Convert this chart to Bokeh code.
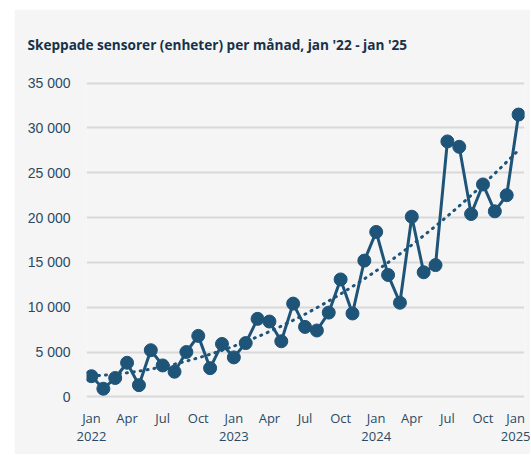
import numpy as np
from bokeh.plotting import figure
from bokeh.models import Range1d, FixedTicker
from bokeh.embed import file_html
from bokeh.resources import INLINE

# ---- data ----
months = ["Jan 2022", "Feb 2022", "Mar 2022", "Apr 2022", "May 2022", "Jun 2022",
          "Jul 2022", "Aug 2022", "Sep 2022", "Oct 2022", "Nov 2022", "Dec 2022",
          "Jan 2023", "Feb 2023", "Mar 2023", "Apr 2023", "May 2023", "Jun 2023",
          "Jul 2023", "Aug 2023", "Sep 2023", "Oct 2023", "Nov 2023", "Dec 2023",
          "Jan 2024", "Feb 2024", "Mar 2024", "Apr 2024", "May 2024", "Jun 2024",
          "Jul 2024", "Aug 2024", "Sep 2024", "Oct 2024", "Nov 2024", "Dec 2024",
          "Jan 2025"]
units = [2300, 900, 2100, 3800, 1300, 5200, 3500, 2800, 5000, 6800, 3200, 5900,
         4400, 6000, 8700, 8400, 6200, 10400, 7800, 7400, 9400, 13100, 9300, 15200,
         18400, 13600, 10500, 20100, 13900, 14700, 28500, 27900, 20400, 23700, 20700, 22500,
         31500]
xtick_pos = [0, 3, 6, 9, 12, 15, 18, 21, 24, 27, 30, 33, 36]
xtick_labels = ["Jan\n2022", "Apr", "Jul", "Oct", "Jan\n2023", "Apr", "Jul", "Oct",
                "Jan\n2024", "Apr", "Jul", "Oct", "Jan\n2025"]
ytick_pos = [0, 5000, 10000, 15000, 20000, 25000, 30000, 35000]
ytick_labels = ["0", "5 000", "10 000", "15 000", "20 000", "25 000", "30 000", "35 000"]
title_text = "Skeppade sensorer (enheter) per månad, jan '22 - jan '25"

x = list(range(len(units)))

# polynomial (order 2) trendline fitted to the data
coef = np.polyfit(x, units, 2)
tx = np.linspace(0, len(units) - 1, 200)
ty = np.polyval(coef, tx)

LINE = "#1f5479"
TXT = "#2c4a63"
BG = "#f5f5f5"

p = figure(width=516, height=445, output_backend="svg", toolbar_location=None,
           x_range=Range1d(-0.42, 36.5), y_range=Range1d(-300, 35300),
           min_border_left=72, min_border_right=6, min_border_top=71, min_border_bottom=55)
p.margin = (9, 0, 0, 14)
p.background_fill_color = BG
p.border_fill_color = BG
p.outline_line_color = None

p.title.text = title_text
p.title.align = "left"
p.title.vertical_align = "top"
p.title.offset = -59
p.title.standoff = 49
p.title.text_font = "Open Sans"
p.title.text_font_style = "bold"
p.title.text_font_size = "13.6px"
p.title.text_color = "#173149"

p.line(tx, ty, line_color=LINE, line_width=3, line_dash="1 6", line_cap="round")
p.line(x, units, line_color=LINE, line_width=3)
p.scatter(x, units, size=13, fill_color=LINE, line_color=LINE)

p.xgrid.grid_line_color = None
p.ygrid.grid_line_color = "#d9d9d9"
p.ygrid.grid_line_width = 2
p.ygrid.ticker = FixedTicker(ticks=ytick_pos)

p.xaxis.ticker = FixedTicker(ticks=xtick_pos)
p.xaxis.major_label_overrides = {t: l for t, l in zip(xtick_pos, xtick_labels)}
p.yaxis.ticker = FixedTicker(ticks=ytick_pos)
p.yaxis.major_label_overrides = {t: l for t, l in zip(ytick_pos, ytick_labels)}

for ax in (p.xaxis, p.yaxis):
    ax.axis_line_color = None
    ax.major_tick_line_color = None
    ax.minor_tick_line_color = None
    ax.major_tick_out = 0
    ax.major_tick_in = 0
    ax.major_label_text_color = TXT

p.xaxis.major_label_text_font = "Open Sans"
p.xaxis.major_label_text_font_size = "13px"
p.xaxis.major_label_text_line_height = 1.05
p.xaxis.major_label_standoff = 9
p.yaxis.major_label_text_font = "Liberation Sans"
p.yaxis.major_label_text_font_size = "14px"
p.yaxis.major_label_standoff = 16

open("out.html", "w").write(file_html(p, INLINE))
